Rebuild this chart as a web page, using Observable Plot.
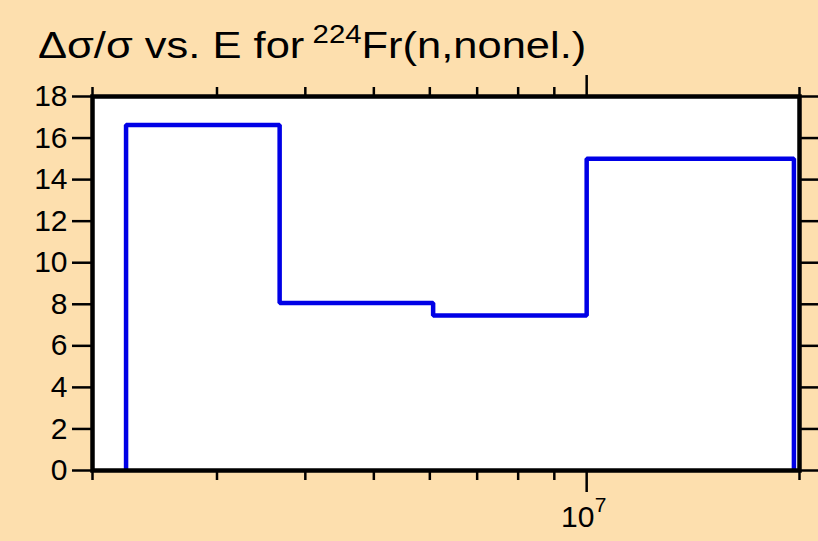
<!DOCTYPE html>
<html><head><meta charset="utf-8">
<script src="https://cdn.jsdelivr.net/npm/d3@7"></script>
<script src="https://cdn.jsdelivr.net/npm/@observablehq/plot@0.6"></script>
<style>
html,body{margin:0;padding:0;background:#fddfae;}
#wrap{position:relative;width:818px;height:541px;font-family:"Liberation Sans",Arial,sans-serif;}
#title{position:absolute;left:38px;top:27px;font-size:37px;line-height:1;white-space:nowrap;color:#000;transform:scaleX(1.175);transform-origin:0 0;}
#title sup{font-size:25px;position:relative;top:-15px;vertical-align:baseline;margin-left:7px;}
#chart{position:absolute;left:0;top:0;}
</style></head>
<body>
<div id="wrap"><div id="chart"></div><div id="title">Δσ/σ vs. E for<sup>224</sup>Fr(n,nonel.)</div></div>
<script>
// Energy group boundaries (eV) and relative uncertainty (%) per group
const edges = [2.231e6, 3.679e6, 6.065e6, 1.0e7, 1.964e7];
const values = [16.63, 8.06, 7.46, 15.0];
const xDomain = [2e6, 2e7];
const yTicks = [0, 2, 4, 6, 8, 10, 12, 14, 16, 18];
const xMinorTicks = [2e6, 3e6, 4e6, 5e6, 6e6, 7e6, 8e6, 9e6, 2e7];
const xMajorTicks = [1e7];

// stepped outline built from the arrays
const pts = [{x: edges[0], y: 0}];
values.forEach((v, i) => {
  pts.push({x: edges[i], y: v});
  pts.push({x: edges[i + 1], y: v});
});
pts.push({x: edges[edges.length - 1], y: 0});

const fs = 30;
const chart = Plot.plot({
  width: 818, height: 541,
  marginLeft: 92, marginRight: 19, marginTop: 96, marginBottom: 71,
  style: {background: "transparent", fontFamily: "Liberation Sans, Arial, sans-serif", color: "#000"},
  x: {type: "log", domain: xDomain, axis: null},
  y: {domain: [0, 18], axis: null},
  marks: [
    Plot.frame({fill: "white", stroke: null}),
    Plot.line(pts, {x: "x", y: "y", stroke: "#0000e6", strokeWidth: 4.5, strokeLinejoin: "miter", strokeLinecap: "butt"}),
    Plot.axisY({anchor: "left", ticks: yTicks, tickSize: 20, tickPadding: 5, fontSize: fs, strokeWidth: 2.5, stroke: "#000", fill: "#000", label: null}),
    Plot.axisY({anchor: "right", ticks: yTicks, tickSize: 20, tickFormat: () => "", strokeWidth: 2.5, stroke: "#000", label: null}),
    Plot.axisX({anchor: "bottom", ticks: xMinorTicks, tickSize: 10, tickFormat: () => "", strokeWidth: 2.5, stroke: "#000", label: null}),
    Plot.axisX({anchor: "bottom", ticks: xMajorTicks, tickSize: 22, tickFormat: () => "", strokeWidth: 2.5, stroke: "#000", label: null}),
    Plot.axisX({anchor: "top", ticks: xMinorTicks, tickSize: 10, tickFormat: () => "", strokeWidth: 2.5, stroke: "#000", label: null}),
    Plot.axisX({anchor: "top", ticks: xMajorTicks, tickSize: 22, tickFormat: () => "", strokeWidth: 2.5, stroke: "#000", label: null}),
    Plot.text(xMajorTicks, {x: d => d, frameAnchor: "bottom", text: () => "10", textAnchor: "middle", lineAnchor: "top", dx: -9, dy: 35, fontSize: fs, fill: "#000"}),
    Plot.text(xMajorTicks, {x: d => d, frameAnchor: "bottom", text: () => "7", textAnchor: "start", lineAnchor: "top", dx: 8, dy: 27, fontSize: 21, fill: "#000"}),
    Plot.frame({stroke: "#000", strokeWidth: 4.5})
  ]
});
document.getElementById("chart").appendChild(chart);
</script>
</body></html>
